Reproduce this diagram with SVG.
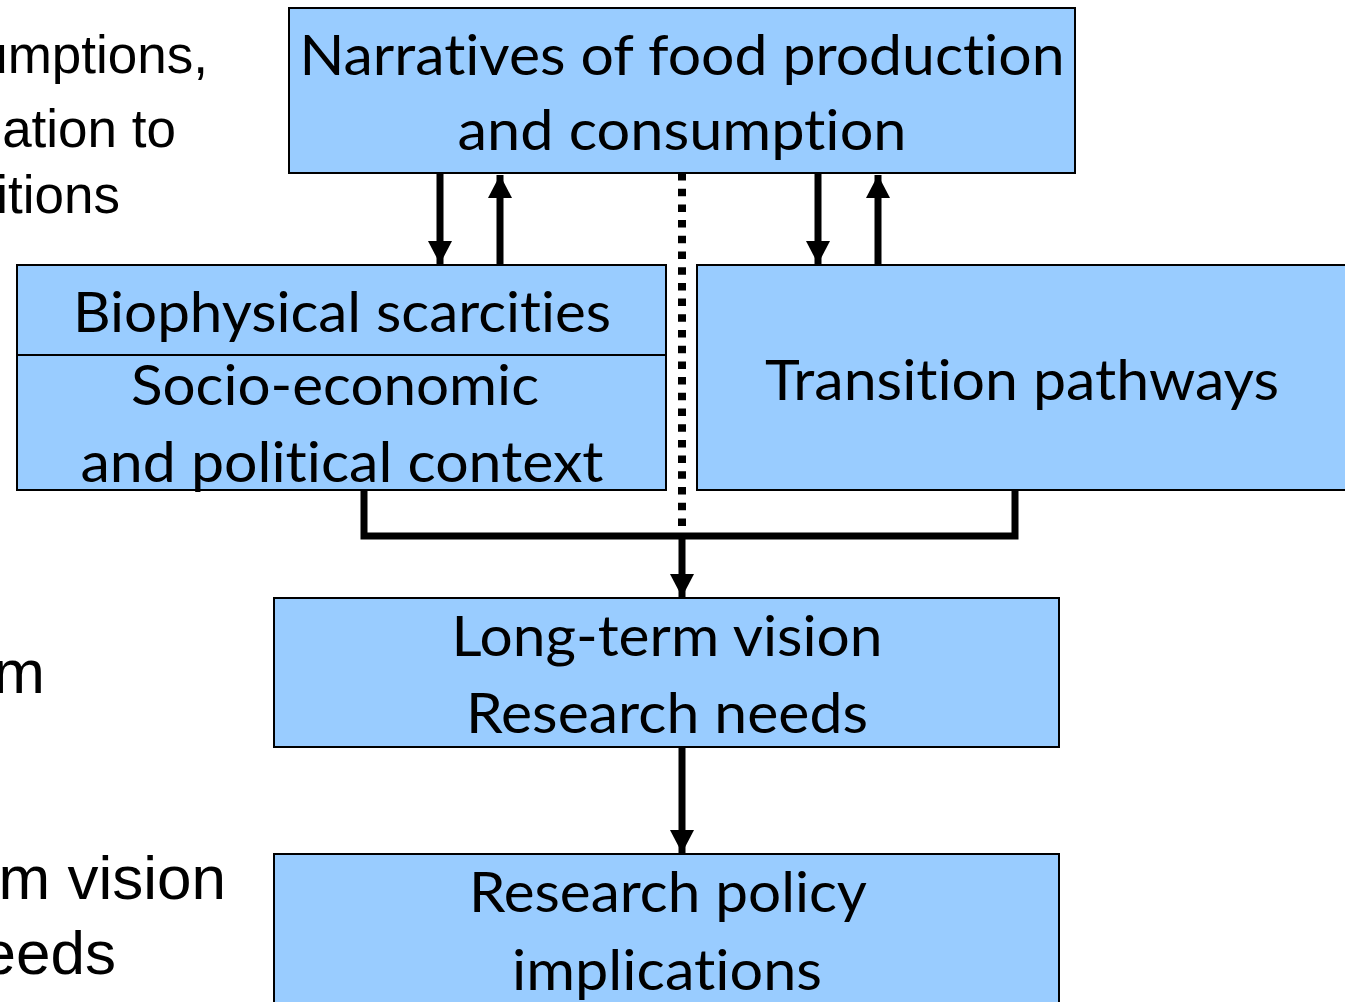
<svg xmlns="http://www.w3.org/2000/svg" width="1345" height="1002" viewBox="0 0 1345 1002">
<style>
.box{fill:#99CCFF;stroke:#000;stroke-width:2}
.t{font-family:Lato,"Open Sans",sans-serif;font-size:56px;fill:#000;text-anchor:middle;font-variant-ligatures:none;font-feature-settings:"liga" 0,"clig" 0}
.s{font-family:"Liberation Sans",Arial,sans-serif;font-size:53px;fill:#000;text-anchor:end}
.b{font-size:62px}
.ln{stroke:#000;stroke-width:7;fill:none}
</style>
<defs>
<marker id="ah" viewBox="0 0 23 24" refX="23" refY="12" markerWidth="23" markerHeight="24" markerUnits="userSpaceOnUse" orient="auto">
<path d="M0,0 L23,12 L0,24 Z" fill="#000"/>
</marker>
</defs>
<rect width="1345" height="1002" fill="#fff"/>
<g id="side-text">
<text class="s" x="208" y="73">umptions,</text>
<text class="s" x="176" y="147">ation to</text>
<text class="s" x="120" y="213">itions</text>
<text class="s b" x="45" y="693">m</text>
<text class="s b" x="226" y="899">m vision</text>
<text class="s b" x="116" y="974">eeds</text>
</g>
<g id="narratives">
<rect class="box" x="289" y="8" width="786" height="165"/>
<text class="t" x="682" y="75" textLength="765" lengthAdjust="spacingAndGlyphs">Narratives of food production</text>
<text class="t" x="682" y="150" textLength="449" lengthAdjust="spacingAndGlyphs">and consumption</text>
</g>
<g id="context">
<rect class="box" x="17" y="265" width="649" height="225"/>
<line x1="17" y1="355" x2="666" y2="355" stroke="#000" stroke-width="2"/>
<text class="t" x="342" y="332" textLength="538" lengthAdjust="spacingAndGlyphs">Biophysical scarcities</text>
<text class="t" x="335" y="405" textLength="408" lengthAdjust="spacingAndGlyphs">Socio-economic</text>
<text class="t" x="342" y="482" textLength="523" lengthAdjust="spacingAndGlyphs">and political context</text>
</g>
<g id="transition">
<rect class="box" x="697" y="265" width="660" height="225"/>
<text class="t" x="1022" y="400" textLength="514" lengthAdjust="spacingAndGlyphs">Transition pathways</text>
</g>
<g id="vision">
<rect class="box" x="274" y="598" width="785" height="149"/>
<text class="t" x="667" y="656" textLength="431" lengthAdjust="spacingAndGlyphs">Long-term vision</text>
<text class="t" x="667" y="733" textLength="402" lengthAdjust="spacingAndGlyphs">Research needs</text>
</g>
<g id="policy">
<rect class="box" x="274" y="854" width="785" height="160"/>
<text class="t" x="668" y="912" textLength="398" lengthAdjust="spacingAndGlyphs">Research policy</text>
<text class="t" x="667" y="990" textLength="310" lengthAdjust="spacingAndGlyphs">implications</text>
</g>
<g id="connectors">
<line class="ln" x1="440" y1="174" x2="440" y2="264" marker-end="url(#ah)"/>
<line class="ln" x1="500" y1="264" x2="500" y2="175" marker-end="url(#ah)"/>
<line class="ln" x1="818" y1="174" x2="818" y2="264" marker-end="url(#ah)"/>
<line class="ln" x1="878" y1="264" x2="878" y2="175" marker-end="url(#ah)"/>
<line x1="682" y1="173" x2="682" y2="532" stroke="#000" stroke-width="8" stroke-dasharray="7.5 8.2"/>
<polyline class="ln" points="364,491 364,536 1015,536 1015,491"/>
<line class="ln" x1="682" y1="536" x2="682" y2="597" marker-end="url(#ah)"/>
<line class="ln" x1="682" y1="748" x2="682" y2="853" marker-end="url(#ah)"/>
</g>
</svg>
